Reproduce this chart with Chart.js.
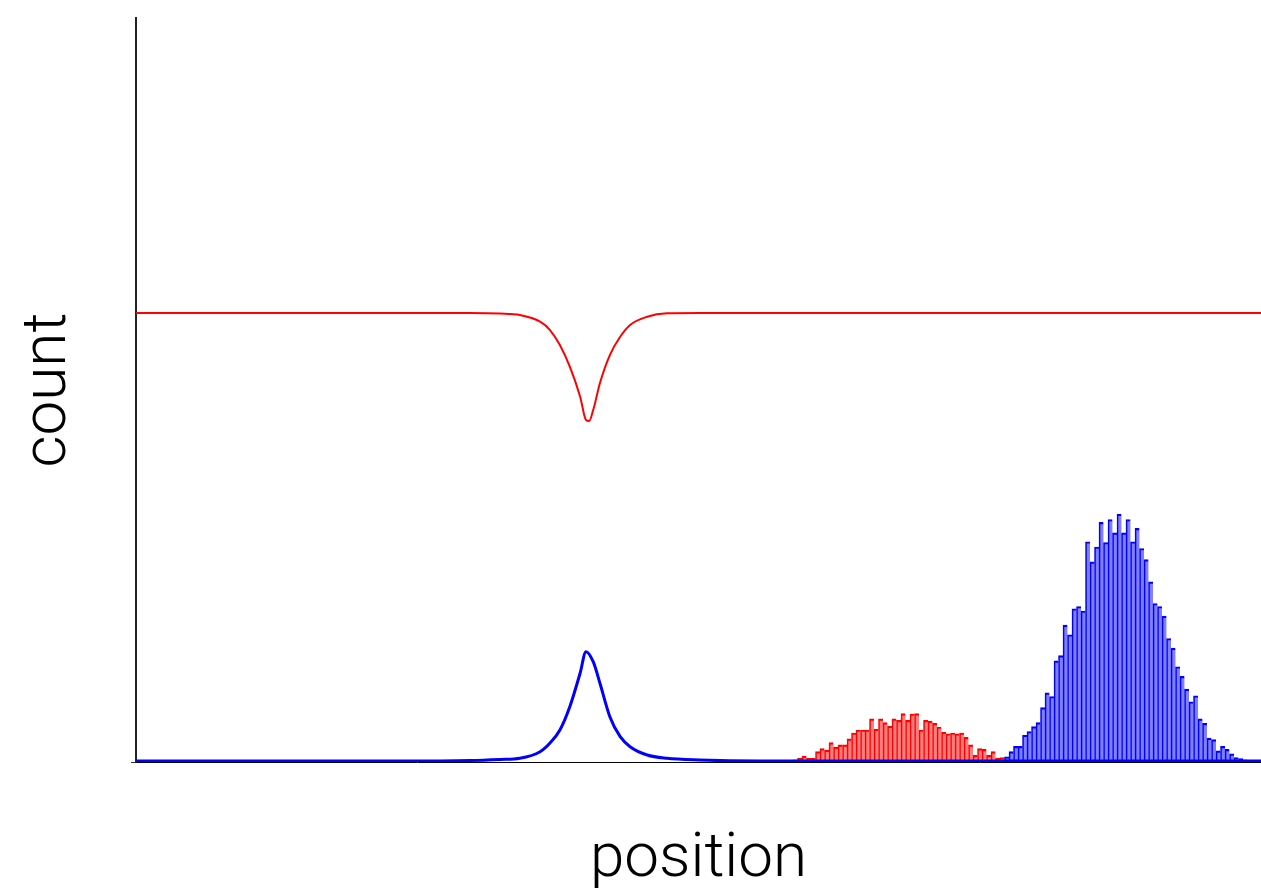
<!DOCTYPE html>
<html>
<head>
<meta charset="utf-8">
<script src="https://cdn.jsdelivr.net/npm/chart.js@4.4.1/dist/chart.umd.min.js"></script>
<style>
html,body{margin:0;padding:0;background:#fff;}
#wrap{width:1261px;height:891px;position:relative;}
</style>
</head>
<body>
<div id="wrap"><canvas id="c"></canvas></div>
<script>
// Smooth curves: position (x) and count (y)
const redLineX = [0, 74.2, 80.9, 85.3, 89.8, 92.0, 94.2, 96.4, 98.7, 100.0, 100.7, 101.6, 103.1, 105.3, 107.6, 109.8, 113.6, 118.0, 125.3, 250];
const redLineY = [60.35, 60.35, 60.28, 60.08, 59.18, 58.06, 56.05, 53.13, 49.1, 45.97, 45.83, 47.3, 50.94, 54.7, 57.16, 58.74, 59.85, 60.3, 60.35, 60.35];

const blueLineX = [0, 58.7, 74.2, 80.9, 85.3, 89.8, 92.0, 94.2, 96.4, 98.7, 100.0, 101.6, 103.1, 105.3, 107.6, 109.8, 113.6, 118.0, 125.3, 138.7, 250];
const blueLineY = [0.13, 0.13, 0.2, 0.34, 0.5, 1.38, 2.55, 4.3, 7.43, 11.96, 14.83, 13.48, 10.58, 6.09, 3.4, 2.06, 0.94, 0.5, 0.27, 0.13, 0.13];

// Histograms: first bin position and counts per unit bin
const redHistStart = 146;
const redHistCounts = [0.3, 0.5, 0.8, 0.5, 0.5, 1.4, 1.8, 1.6, 2.6, 2.0, 2.3, 2.3, 3.1, 3.9, 4.3, 4.3, 4.3, 5.8, 4.4, 5.8, 5.3, 4.8, 5.8, 5.6, 6.5, 5.6, 6.45, 6.5, 4.3, 5.6, 5.5, 5.2, 4.7, 4.0, 3.8, 3.9, 3.8, 3.9, 3.3, 2.3, 0.9, 1.8, 1.7, 0.9, 1.4, 0.5, 0.6, 0.3, 0.3, 0.3, 0.2, 0.2, 0.2, 0.2];

const blueHistStart = 193;
const blueHistCounts = [0.7, 1.4, 2.1, 2.1, 3.6, 4.1, 4.75, 5.3, 7.3, 9.3, 8.8, 13.6, 14.3, 18.4, 17.1, 20.6, 20.9, 20.3, 29.6, 26.9, 28.9, 32.2, 29.5, 32.6, 30.8, 33.3, 30.8, 32.6, 29.6, 31.4, 28.7, 27.2, 24.2, 21.3, 20.9, 19.6, 16.6, 15.3, 12.8, 11.5, 9.8, 8.1, 8.9, 5.8, 5.2, 3.2, 3.0, 1.5, 2.1, 1.7, 1.1, 0.6, 0.45, 0.3, 0.2, 0.2];

const xMin = 0, xMax = 250, yMin = 0, yMax = 100;
const xTitle = 'position';
const yTitle = 'count';

const pts = (xs, ys) => xs.map((x, i) => ({x: x, y: ys[i]}));
const hist = (start, counts) => counts.map((c, i) => ({x: start + i + 0.5, y: c}));

const titleFont = {family: 'Roboto, "Helvetica Neue", "Liberation Sans", sans-serif', size: 62, weight: 300, lineHeight: 1};
const barEdge = {left: 1, top: 1.5, right: 0, bottom: 0};

new Chart(document.getElementById('c'), {
  data: {
    datasets: [
      {type: 'line', data: pts(blueLineX, blueLineY), borderColor: '#0000ff', borderWidth: 3, pointRadius: 0, cubicInterpolationMode: 'monotone', fill: false, order: 0},
      {type: 'line', data: pts(redLineX, redLineY), borderColor: '#ff0000', borderWidth: 2, pointRadius: 0, cubicInterpolationMode: 'monotone', fill: false, order: 0},
      {type: 'bar', data: hist(blueHistStart, blueHistCounts), backgroundColor: 'rgba(0,0,255,0.5)', borderColor: '#0000ff', borderWidth: barEdge, borderSkipped: false, barPercentage: 1, categoryPercentage: 1, grouped: false, order: 1},
      {type: 'bar', data: hist(redHistStart, redHistCounts), backgroundColor: 'rgba(255,0,0,0.5)', borderColor: '#ff0000', borderWidth: barEdge, borderSkipped: false, barPercentage: 1, categoryPercentage: 1, grouped: false, order: 2}
    ]
  },
  options: {
    responsive: true,
    maintainAspectRatio: false,
    animation: false,
    layout: {padding: {top: 18, left: 0, right: 0, bottom: 0}},
    plugins: {legend: {display: false}, tooltip: {enabled: false}},
    scales: {
      x: {
        type: 'linear', min: xMin, max: xMax, offset: false,
        grid: {display: false},
        border: {display: true, color: '#000', width: 1},
        ticks: {display: false},
        title: {display: true, text: xTitle, color: '#000', font: titleFont, padding: {top: 0, bottom: 0}},
        afterFit: s => { s.height = 129; }
      },
      y: {
        type: 'linear', min: yMin, max: yMax,
        grid: {display: true, drawOnChartArea: false, drawTicks: true, tickLength: 5, color: '#333'},
        border: {display: true, color: '#222', width: 2},
        ticks: {display: false},
        afterBuildTicks: s => { s.ticks = [{value: 0}]; },
        title: {display: true, text: yTitle, color: '#000', font: titleFont, padding: {top: 18, bottom: 0}},
        afterFit: s => { s.width = 136; }
      }
    }
  }
});
</script>
</body>
</html>
